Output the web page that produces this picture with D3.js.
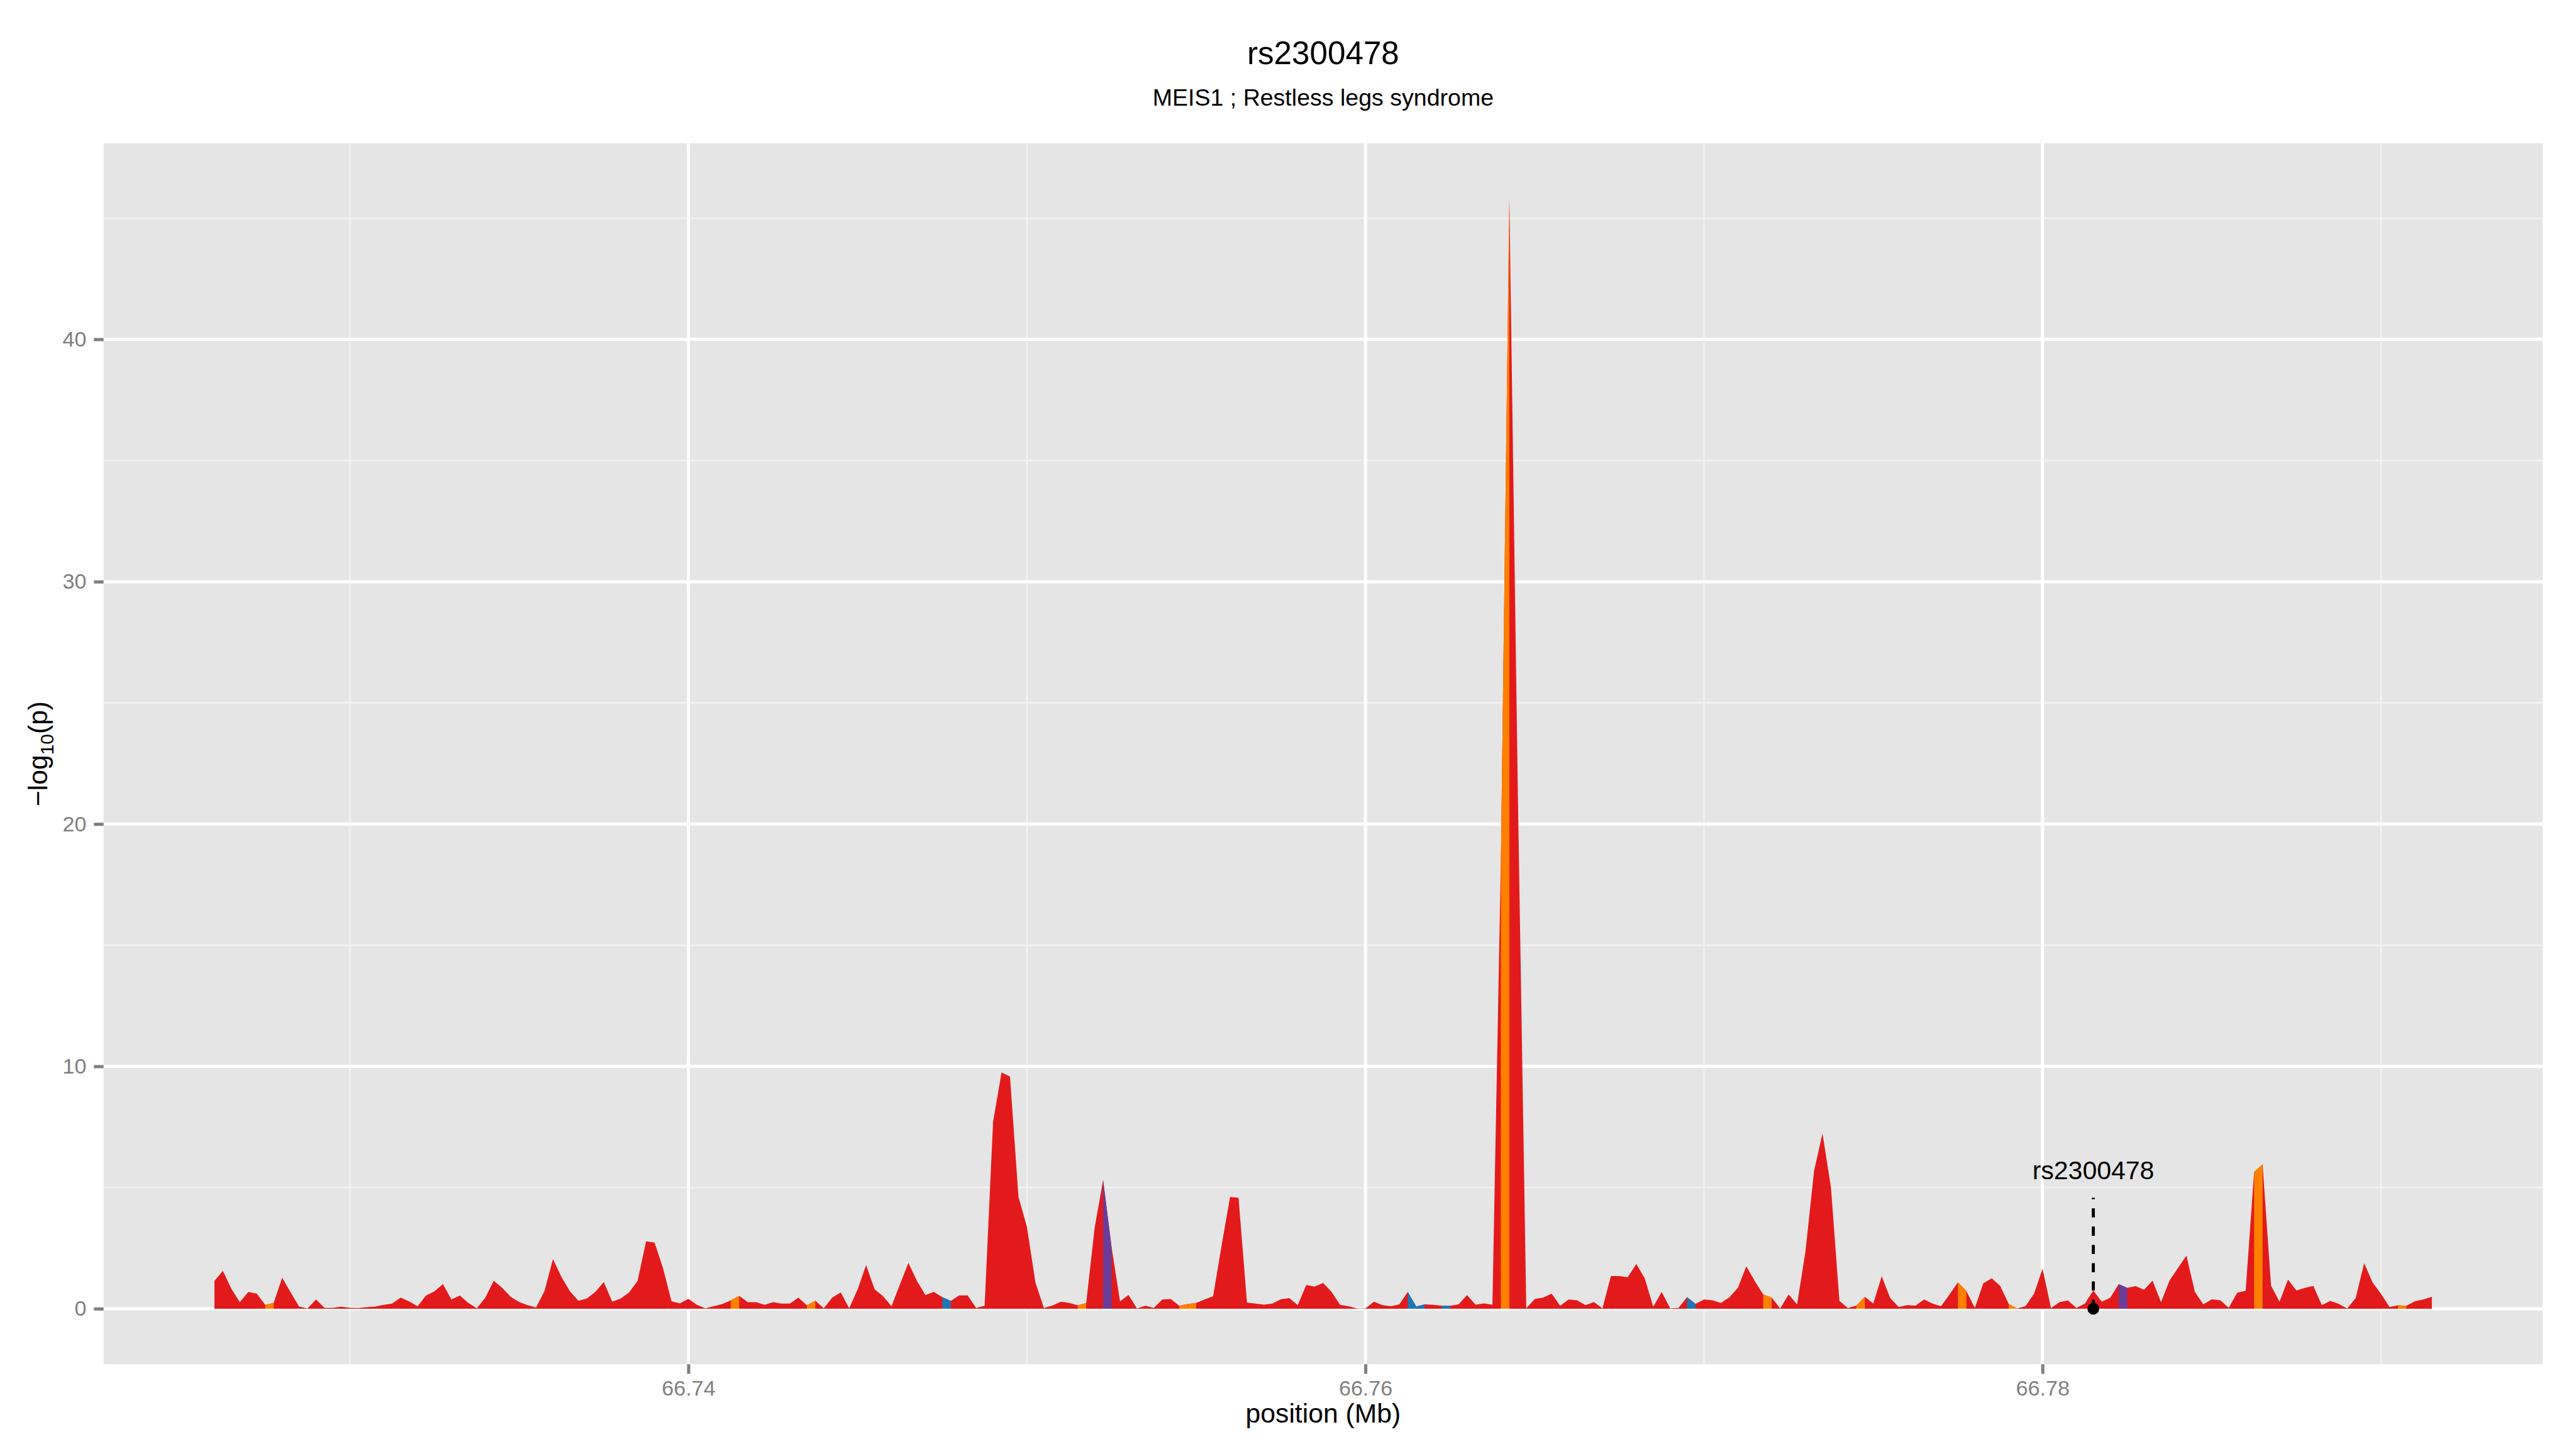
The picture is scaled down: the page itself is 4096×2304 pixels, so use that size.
<!DOCTYPE html>
<html>
<head>
<meta charset="utf-8">
<script src="https://cdn.jsdelivr.net/npm/d3@7"></script>
<style>
  body { margin: 0; background: #fff; }
  svg { display: block; font-family: "Liberation Sans", Arial, sans-serif; }
</style>
</head>
<body>
<div id="chart"></div>
<script>
// SNP positions (Mb) along the MEIS1 region
const positionMb = [
    66.72600, 66.72625, 66.72650, 66.72675, 66.72700, 66.72725, 66.72750, 66.72775,
    66.72800, 66.72825, 66.72850, 66.72875, 66.72900, 66.72925, 66.72950, 66.72975,
    66.73000, 66.73025, 66.73050, 66.73075, 66.73100, 66.73125, 66.73150, 66.73175,
    66.73200, 66.73225, 66.73250, 66.73275, 66.73300, 66.73325, 66.73350, 66.73375,
    66.73400, 66.73425, 66.73450, 66.73475, 66.73500, 66.73525, 66.73550, 66.73575,
    66.73600, 66.73625, 66.73650, 66.73675, 66.73700, 66.73725, 66.73750, 66.73775,
    66.73800, 66.73825, 66.73850, 66.73875, 66.73900, 66.73925, 66.73950, 66.73975,
    66.74000, 66.74025, 66.74050, 66.74075, 66.74100, 66.74125, 66.74150, 66.74175,
    66.74200, 66.74225, 66.74250, 66.74275, 66.74300, 66.74325, 66.74350, 66.74375,
    66.74400, 66.74425, 66.74450, 66.74475, 66.74500, 66.74525, 66.74550, 66.74575,
    66.74600, 66.74625, 66.74650, 66.74675, 66.74700, 66.74725, 66.74750, 66.74775,
    66.74800, 66.74825, 66.74850, 66.74875, 66.74900, 66.74925, 66.74950, 66.74975,
    66.75000, 66.75025, 66.75050, 66.75075, 66.75100, 66.75125, 66.75150, 66.75175,
    66.75200, 66.75225, 66.75250, 66.75275, 66.75300, 66.75325, 66.75350, 66.75375,
    66.75400, 66.75425, 66.75450, 66.75475, 66.75500, 66.75525, 66.75550, 66.75575,
    66.75600, 66.75625, 66.75650, 66.75675, 66.75700, 66.75725, 66.75750, 66.75775,
    66.75800, 66.75825, 66.75850, 66.75875, 66.75900, 66.75925, 66.75950, 66.75975,
    66.76000, 66.76025, 66.76050, 66.76075, 66.76100, 66.76125, 66.76150, 66.76175,
    66.76200, 66.76225, 66.76250, 66.76275, 66.76300, 66.76325, 66.76350, 66.76375,
    66.76400, 66.76425, 66.76450, 66.76475, 66.76500, 66.76525, 66.76550, 66.76575,
    66.76600, 66.76625, 66.76650, 66.76675, 66.76700, 66.76725, 66.76750, 66.76775,
    66.76800, 66.76825, 66.76850, 66.76875, 66.76900, 66.76925, 66.76950, 66.76975,
    66.77000, 66.77025, 66.77050, 66.77075, 66.77100, 66.77125, 66.77150, 66.77175,
    66.77200, 66.77225, 66.77250, 66.77275, 66.77300, 66.77325, 66.77350, 66.77375,
    66.77400, 66.77425, 66.77450, 66.77475, 66.77500, 66.77525, 66.77550, 66.77575,
    66.77600, 66.77625, 66.77650, 66.77675, 66.77700, 66.77725, 66.77750, 66.77775,
    66.77800, 66.77825, 66.77850, 66.77875, 66.77900, 66.77925, 66.77950, 66.77975,
    66.78000, 66.78025, 66.78050, 66.78075, 66.78100, 66.78125, 66.78150, 66.78175,
    66.78200, 66.78225, 66.78250, 66.78275, 66.78300, 66.78325, 66.78350, 66.78375,
    66.78400, 66.78425, 66.78450, 66.78475, 66.78500, 66.78525, 66.78550, 66.78575,
    66.78600, 66.78625, 66.78650, 66.78675, 66.78700, 66.78725, 66.78750, 66.78775,
    66.78800, 66.78825, 66.78850, 66.78875, 66.78900, 66.78925, 66.78950, 66.78975,
    66.79000, 66.79025, 66.79050, 66.79075, 66.79100, 66.79125, 66.79150
];

// -log10(p) at each position
const logP = [
    1.15, 1.56, 0.82, 0.27, 0.69, 0.62, 0.16, 0.24,
    1.28, 0.67, 0.09, 0.01, 0.38, 0.04, 0.04, 0.08,
    0.04, 0.03, 0.06, 0.09, 0.16, 0.21, 0.46, 0.30,
    0.10, 0.54, 0.72, 1.02, 0.38, 0.54, 0.24, 0.02,
    0.45, 1.15, 0.86, 0.49, 0.28, 0.15, 0.05, 0.73,
    2.05, 1.31, 0.72, 0.33, 0.42, 0.69, 1.10, 0.29,
    0.42, 0.67, 1.15, 2.78, 2.73, 1.68, 0.31, 0.22,
    0.41, 0.16, 0.02, 0.10, 0.19, 0.34, 0.53, 0.27,
    0.27, 0.16, 0.27, 0.21, 0.21, 0.46, 0.14, 0.33,
    0.02, 0.46, 0.67, 0.02, 0.80, 1.80, 0.80, 0.52,
    0.10, 1.01, 1.89, 1.15, 0.56, 0.69, 0.48, 0.32,
    0.55, 0.55, 0.03, 0.12, 7.71, 9.75, 9.58, 4.62,
    3.37, 1.09, 0.03, 0.13, 0.29, 0.24, 0.14, 0.23,
    3.33, 5.31, 2.54, 0.30, 0.57, 0.01, 0.12, 0.04,
    0.38, 0.40, 0.12, 0.19, 0.24, 0.38, 0.52, 2.60,
    4.61, 4.58, 0.25, 0.21, 0.17, 0.21, 0.39, 0.44,
    0.15, 0.98, 0.91, 1.06, 0.69, 0.16, 0.10, 0.01,
    0.01, 0.29, 0.15, 0.10, 0.18, 0.69, 0.09, 0.18,
    0.16, 0.13, 0.12, 0.18, 0.56, 0.17, 0.22, 0.17,
    18.45, 45.80, 21.40, 0.02, 0.40, 0.46, 0.62, 0.12,
    0.38, 0.35, 0.15, 0.28, 0.01, 1.35, 1.35, 1.30,
    1.85, 1.25, 0.08, 0.69, 0.02, 0.04, 0.48, 0.20,
    0.38, 0.35, 0.24, 0.47, 0.86, 1.75, 1.14, 0.59,
    0.46, 0.01, 0.59, 0.18, 2.39, 5.68, 7.23, 5.01,
    0.32, 0.03, 0.13, 0.49, 0.21, 1.34, 0.44, 0.07,
    0.15, 0.13, 0.38, 0.21, 0.10, 0.58, 1.09, 0.73,
    0.03, 1.05, 1.26, 0.94, 0.20, 0.01, 0.11, 0.62,
    1.65, 0.03, 0.27, 0.34, 0.03, 0.21, 0.75, 0.29,
    0.45, 1.02, 0.86, 0.93, 0.78, 1.16, 0.27, 1.16,
    1.68, 2.19, 0.69, 0.18, 0.39, 0.35, 0.04, 0.66,
    0.74, 5.64, 5.96, 0.95, 0.29, 1.20, 0.75, 0.86,
    0.94, 0.15, 0.32, 0.20, 0.01, 0.44, 1.88, 1.08,
    0.61, 0.07, 0.14, 0.12, 0.31, 0.38, 0.49
];

// segments (start index i -> i+1) that belong to another class than the default one
const orangeSegments = [6, 61, 70, 102, 114, 115, 152, 183, 194, 206, 212, 241, 258];
const blueSegments = [86, 141, 142, 145, 174];
const purpleSegments = [105, 225];

const classNames = ["red", "orange", "blue", "purple"];
const classColors = ["#E31A1C", "#FF7F00", "#1F78B4", "#6A3D9A"];

// lead SNP annotation
const leadSnp = "rs2300478";
const leadPos = 66.7815;
const leadLineTop = 4.58;
const leadLabelAt = 5.35;

const yTicks = [0, 10, 20, 30, 40];
const yMinor = [5, 15, 25, 35, 45];
const xTicks = [66.74, 66.76, 66.78];
const xMinor = [66.73, 66.75, 66.77, 66.79];

const titleText = "rs2300478";
const subtitleText = "MEIS1 ; Restless legs syndrome";
const xTitle = "position (Mb)";

// drawn in the reference's 4800x2700 space, shown at 4096x2304
const width = 4800;
const height = 2700;
const margin = {top: 267, right: 62, bottom: 158, left: 193};

const data = positionMb.map((p, i) => ({pos: p, val: logP[i]}));

const xExt = d3.extent(positionMb);
const xPad = (xExt[1] - xExt[0]) * 0.05;
const x = d3.scaleLinear()
    .domain([xExt[0] - xPad, xExt[1] + xPad])
    .range([margin.left, width - margin.right]);

const yMax = d3.max(logP);
const yPad = yMax * 0.05;
const y = d3.scaleLinear()
    .domain([-yPad, yMax + yPad])
    .range([height - margin.bottom, margin.top]);

const color = d3.scaleOrdinal(classNames, classColors);

const svg = d3.select("#chart").append("svg")
    .attr("width", 4096)
    .attr("height", 2304)
    .attr("viewBox", [0, 0, width, height]);

// panel
svg.append("rect")
    .attr("x", margin.left)
    .attr("y", margin.top)
    .attr("width", width - margin.left - margin.right)
    .attr("height", height - margin.top - margin.bottom)
    .attr("fill", "#E5E5E5");

const grid = svg.append("g");

grid.selectAll(".ymin").data(yMinor).join("line")
    .attr("x1", margin.left).attr("x2", width - margin.right)
    .attr("y1", d => y(d)).attr("y2", d => y(d))
    .attr("stroke", "#F2F2F2").attr("stroke-width", 2.95);

grid.selectAll(".xmin").data(xMinor).join("line")
    .attr("y1", margin.top).attr("y2", height - margin.bottom)
    .attr("x1", d => x(d)).attr("x2", d => x(d))
    .attr("stroke", "#F2F2F2").attr("stroke-width", 2.95);

grid.selectAll(".ymaj").data(yTicks).join("line")
    .attr("x1", margin.left).attr("x2", width - margin.right)
    .attr("y1", d => y(d)).attr("y2", d => y(d))
    .attr("stroke", "#fff").attr("stroke-width", 5.9);

grid.selectAll(".xmaj").data(xTicks).join("line")
    .attr("y1", margin.top).attr("y2", height - margin.bottom)
    .attr("x1", d => x(d)).attr("x2", d => x(d))
    .attr("stroke", "#fff").attr("stroke-width", 5.9);

// area under the association curve
const area = d3.area()
    .x(d => x(d.pos))
    .y0(y(0))
    .y1(d => y(d.val));

svg.append("path")
    .datum(data)
    .attr("fill", color("red"))
    .attr("d", area);

// overlay the segments of the other classes
const segments = [];
orangeSegments.forEach(s => segments.push({cls: "orange", pts: data.slice(s, s + 2)}));
blueSegments.forEach(s => segments.push({cls: "blue", pts: data.slice(s, s + 2)}));
purpleSegments.forEach(s => segments.push({cls: "purple", pts: data.slice(s, s + 2)}));

svg.append("g")
    .selectAll("path")
    .data(segments)
    .join("path")
    .attr("fill", d => color(d.cls))
    .attr("d", d => area(d.pts));

// lead SNP marker
svg.append("line")
    .attr("x1", x(leadPos)).attr("x2", x(leadPos))
    .attr("y1", y(0)).attr("y2", y(leadLineTop))
    .attr("stroke", "#000")
    .attr("stroke-width", 5.7)
    .attr("stroke-dasharray", "17 17");

svg.append("circle")
    .attr("cx", x(leadPos))
    .attr("cy", y(0))
    .attr("r", 11)
    .attr("fill", "#000");

svg.append("text")
    .attr("x", x(leadPos))
    .attr("y", y(leadLabelAt))
    .attr("text-anchor", "middle")
    .style("font-size", "48px")
    .attr("fill", "#000")
    .text(leadSnp);

// axes
const yAxis = svg.append("g")
    .attr("transform", `translate(${margin.left},0)`)
    .call(d3.axisLeft(y).tickValues(yTicks).tickSize(18).tickPadding(14));

const xAxis = svg.append("g")
    .attr("transform", `translate(0,${height - margin.bottom})`)
    .call(d3.axisBottom(x).tickValues(xTicks).tickFormat(d3.format(".2f")).tickSize(18).tickPadding(12));

[yAxis, xAxis].forEach(ax => {
    ax.select(".domain").remove();
    ax.selectAll(".tick line").attr("stroke", "#7F7F7F").attr("stroke-width", 5.9);
    ax.selectAll(".tick text")
        .attr("fill", "#7F7F7F")
        .style("font-size", "40px")
        .style("font-family", "\"Liberation Sans\", Arial, sans-serif");
});

const cx = (margin.left + width - margin.right) / 2;
const cy = (margin.top + height - margin.bottom) / 2;

svg.append("text")
    .attr("x", cx)
    .attr("y", 2651)
    .attr("text-anchor", "middle")
    .style("font-size", "50px")
    .text(xTitle);

const yTitle = svg.append("text")
    .attr("transform", `translate(88,${cy}) rotate(-90)`)
    .attr("text-anchor", "middle")
    .style("font-size", "50px");
yTitle.append("tspan").text("\u2212log");
yTitle.append("tspan").attr("dy", 12).style("font-size", "35px").text("10");
yTitle.append("tspan").attr("dy", -12).text("(p)");

// titles
svg.append("text")
    .attr("x", cx)
    .attr("y", 120)
    .attr("text-anchor", "middle")
    .style("font-size", "60px")
    .text(titleText);

svg.append("text")
    .attr("x", cx)
    .attr("y", 197)
    .attr("text-anchor", "middle")
    .style("font-size", "44px")
    .text(subtitleText);
</script>
</body>
</html>
